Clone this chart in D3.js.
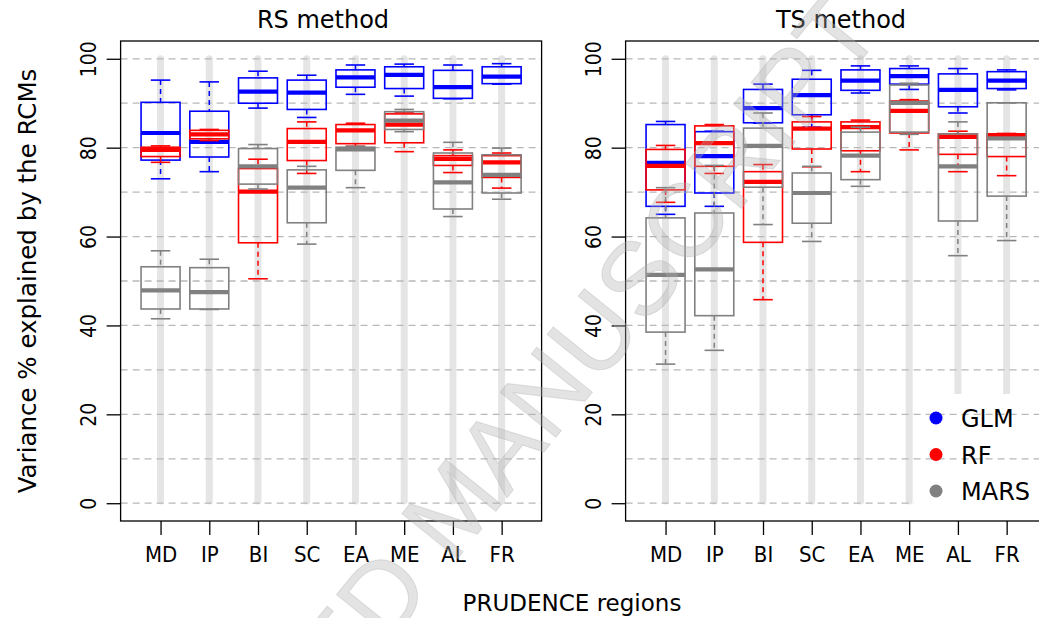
<!DOCTYPE html>
<html><head><meta charset="utf-8">
<script src="https://cdn.jsdelivr.net/npm/d3@7"></script>
<style>
body{margin:0;background:#fff;}
svg{display:block;}
</style></head>
<body>
<svg id="chart" width="1039" height="618"></svg>
<script>
// ---------- data ----------
const regions = ["MD","IP","BI","SC","EA","ME","AL","FR"];
const yTicks = [0,20,40,60,80,100];
const gridValues = [0,10,20,30,40,50,60,70,80,90,100];
const methods = ["GLM","RF","MARS"];
// each entry: [lower whisker, Q1, median, Q3, upper whisker]
const rsGLM  = [[73.0,77.2,83.3,90.2,95.2],[74.6,77.9,81.3,88.2,94.8],[88.9,90.0,92.6,95.7,97.2],[86.8,88.6,92.4,95.2,96.3],[92.0,93.6,95.8,97.5,98.6],[91.6,93.3,96.4,98.2,98.8],[91.0,91.1,93.6,97.4,98.6],[94.3,94.4,96.0,98.2,98.9]];
const rsRF   = [[76.7,78.0,79.5,80.1,80.4],[81.6,82.0,83.0,83.9,84.1],[50.5,58.6,70.1,75.3,77.4],[74.2,77.1,81.3,84.3,85.8],[80.3,80.9,83.9,85.2,85.5],[79.1,81.1,85.2,87.6,88.0],[74.4,76.0,77.5,78.2,79.5],[70.9,73.3,76.7,78.2,78.8]];
const rsMARS = [[41.5,43.7,47.9,53.2,56.8],[43.6,43.7,47.5,53.0,54.9],[70.7,71.8,75.8,79.8,80.7],[58.3,63.1,71.0,75.0,75.8],[71.0,74.9,79.6,80.1,80.3],[83.6,84.1,86.1,88.1,88.6],[64.5,66.2,72.2,78.8,81.2],[68.4,69.8,73.9,78.4,79.9]];
const tsGLM  = [[65.0,66.8,76.6,85.2,85.9],[66.8,69.8,78.1,83.6,83.7],[85.5,85.6,88.9,93.1,94.3],[84.6,87.4,91.8,95.4,97.4],[92.3,92.9,95.1,97.5,98.4],[93.1,94.3,96.1,97.8,98.4],[87.8,89.2,93.0,96.6,97.8],[93.0,93.3,95.1,97.1,97.5]];
const tsRF   = [[67.7,70.5,75.9,79.6,80.5],[74.2,75.8,81.0,84.9,85.2],[45.8,58.7,72.3,74.6,76.2],[75.7,79.7,84.3,85.8,87.0],[74.6,79.3,84.6,85.8,86.2],[79.5,83.3,88.3,90.5,90.8],[74.6,78.5,82.4,83.1,83.7],[73.7,78.0,82.8,83.1,83.2]];
const tsMARS = [[31.3,38.5,51.4,64.2,71.0],[34.4,42.2,52.6,65.3,76.0],[62.7,71.1,80.4,84.4,87.8],[58.9,63.0,69.8,74.3,75.8],[71.3,72.8,78.2,83.5,84.6],[83.0,83.5,90.1,94.1,94.5],[55.7,63.5,75.8,83.1,85.8],[59.1,69.1,82.1,90.1,90.1]];

// ---------- styling ----------
const colors = {GLM:"#0000ff", RF:"#ff0000", MARS:"#808080"};
const narrow = "'Liberation Sans Narrow','DejaVu Sans Condensed','Arial Narrow',sans-serif";
const regular = "'DejaVu Sans',sans-serif";

const svg = d3.select("#chart");
const plotTop = 41, plotBottom = 521, panelW = 421;
const y = d3.scaleLinear().domain([-4,104]).range([plotBottom, plotTop]);

function drawPanel(left, title, titleX, series, hasLegend){
  const x = d3.scaleLinear().domain([0.18, 8.82]).range([left, left + panelW]);
  const pos = regions.map((r,i)=>i+1);
  const g = svg.append("g");

  g.selectAll(".vl").data(pos).join("line")
    .attr("x1", d=>x(d)).attr("x2", d=>x(d))
    .attr("y1", y(100)).attr("y2", y(0.5))
    .attr("stroke","#e5e5e5").attr("stroke-width",7).attr("stroke-linecap","round");

  g.append("line").attr("x1",left).attr("x2",left+panelW)
    .attr("y1",y(0)).attr("y2",y(0))
    .attr("stroke","#b8b8b8").attr("stroke-width",1.3).attr("stroke-dasharray","7,5");

  if(hasLegend){
    g.append("rect").attr("x",914).attr("y",394).attr("width",140).attr("height",122).attr("fill","#fff");
  }

  g.selectAll(".gl").data(gridValues.filter(v=>v>0)).join("line")
    .attr("x1",left).attr("x2",left+panelW)
    .attr("y1",d=>y(d)).attr("y2",d=>y(d))
    .attr("stroke","#b8b8b8").attr("stroke-width",1.3).attr("stroke-dasharray","7,5");

  methods.forEach(m=>{
    const data = series[m];
    const col = colors[m];
    const bg = g.append("g").attr("stroke",col).attr("fill","none");
    data.forEach((s,i)=>{
      const xc = x(i+1), hw = x(0.4)-x(0), cw = x(0.2)-x(0);
      const [lo,q1,med,q3,hi] = s;
      bg.append("line").attr("x1",xc).attr("x2",xc).attr("y1",y(hi)).attr("y2",y(q3))
        .attr("stroke-width",1.5).attr("stroke-dasharray","5,4");
      bg.append("line").attr("x1",xc).attr("x2",xc).attr("y1",y(q1)).attr("y2",y(lo))
        .attr("stroke-width",1.5).attr("stroke-dasharray","5,4");
      bg.append("line").attr("x1",xc-cw).attr("x2",xc+cw).attr("y1",y(hi)).attr("y2",y(hi)).attr("stroke-width",1.6);
      bg.append("line").attr("x1",xc-cw).attr("x2",xc+cw).attr("y1",y(lo)).attr("y2",y(lo)).attr("stroke-width",1.6);
      bg.append("rect").attr("x",xc-hw).attr("y",y(q3)).attr("width",2*hw).attr("height",y(q1)-y(q3)).attr("stroke-width",1.6);
      bg.append("line").attr("x1",xc-hw).attr("x2",xc+hw).attr("y1",y(med)).attr("y2",y(med)).attr("stroke-width",4.2);
    });
  });

  g.append("rect").attr("x",left).attr("y",plotTop).attr("width",panelW).attr("height",plotBottom-plotTop)
    .attr("fill","none").attr("stroke","#000").attr("stroke-width",1.3);

  const ya = g.append("g").attr("transform",`translate(${left},0)`)
    .call(d3.axisLeft(y).tickValues(yTicks).tickSize(14).tickSizeOuter(0).tickFormat(d3.format("d")));
  ya.select(".domain").remove();
  ya.selectAll(".tick line").attr("stroke","#000").attr("stroke-width",1.3);
  ya.selectAll(".tick text").attr("x",null).attr("dy",null)
    .attr("transform","translate(-25,0) rotate(-90)")
    .attr("text-anchor","middle").attr("font-family",narrow).attr("font-size",21).attr("fill","#000");

  const xa = g.append("g").attr("transform",`translate(0,${plotBottom})`)
    .call(d3.axisBottom(x).tickValues(pos).tickSize(14).tickSizeOuter(0).tickFormat(d=>regions[d-1]));
  xa.select(".domain").remove();
  xa.selectAll(".tick line").attr("stroke","#000").attr("stroke-width",1.3);
  xa.selectAll(".tick text").attr("y",41).attr("dy",null).attr("font-family",narrow).attr("font-size",22).attr("fill","#000");

  svg.append("text").attr("x",titleX).attr("y",28).attr("text-anchor","middle")
    .attr("font-family",regular).attr("font-size",24).text(title);
}

drawPanel(120.6, "RS method", 323, {GLM:rsGLM, RF:rsRF, MARS:rsMARS}, false);
drawPanel(625.6, "TS method", 841, {GLM:tsGLM, RF:tsRF, MARS:tsMARS}, true);

const lg = svg.append("g");
methods.forEach((m,i)=>{
  const cy = 418 + i*36.5;
  lg.append("circle").attr("cx",936).attr("cy",cy).attr("r",6.5).attr("fill",colors[m]);
  lg.append("text").attr("x",961).attr("y",cy+9).attr("font-family",regular).attr("font-size",24).text(m);
});

svg.append("text").attr("transform",`translate(36,281) rotate(-90)`).attr("text-anchor","middle")
  .attr("font-family",regular).attr("font-size",24.5).text("Variance % explained by the RCMs");
svg.append("text").attr("x",572).attr("y",611).attr("text-anchor","middle")
  .attr("font-family",regular).attr("font-size",23).text("PRUDENCE regions");

svg.append("text").attr("transform","translate(885,31) rotate(-51)").attr("text-anchor","end")
  .attr("font-family","'Liberation Sans',sans-serif").attr("font-size",104)
  .attr("fill","#b0b0b0").attr("fill-opacity",0.35).attr("stroke","#b0b0b0").attr("stroke-opacity",0.35).attr("stroke-width",1)
  .text("ACCEPTED MANUSCRIPT");
</script>
</body></html>
